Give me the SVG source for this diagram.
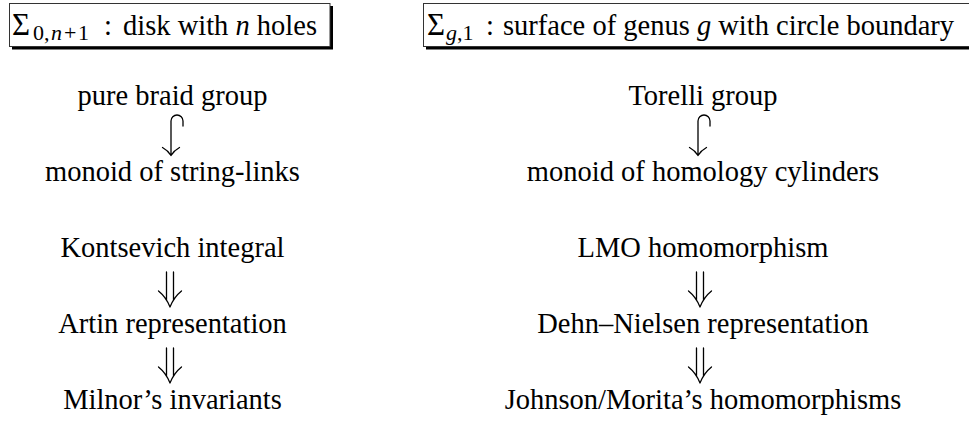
<svg xmlns="http://www.w3.org/2000/svg" width="969" height="421" viewBox="0 0 969 421">
<style>
text { font-family: "Liberation Serif", "Times New Roman", serif; font-size: 28.5px; fill: #000; }
.c { text-anchor: middle; }
.it { font-style: italic; }
.sub { font-size: 22px; }
.frame { fill: #fff; stroke: #333; stroke-width: 1; }
.shadow { fill: #000; }
.arr { fill: none; stroke: #000; stroke-width: 1.3; stroke-linecap: round; stroke-linejoin: round; }
</style>
<rect width="969" height="421" fill="#fff"/>
<g id="box-disk">
  <rect class="shadow" x="12" y="6" width="321" height="43.5"/>
  <rect class="frame" x="9.5" y="3.5" width="320.5" height="43"/>
  <text y="35"><tspan x="12" font-size="31">Σ</tspan><tspan class="sub" x="33" dy="5">0,</tspan><tspan class="sub it" x="51">n</tspan><tspan class="sub" x="64">+</tspan><tspan class="sub" x="78">1</tspan><tspan x="104" dy="-5">:</tspan><tspan x="123">disk with </tspan><tspan class="it">n</tspan><tspan> holes</tspan></text>
</g>
<g id="box-surface">
  <rect class="shadow" x="426" y="6" width="560" height="43.5"/>
  <rect class="frame" x="423.5" y="3.5" width="560" height="43"/>
  <text y="35"><tspan x="427" font-size="31">Σ</tspan><tspan class="sub it" x="446" dy="5">g</tspan><tspan class="sub">,1</tspan><tspan x="486" dy="-5">:</tspan><tspan x="503">surface of genus </tspan><tspan class="it">g</tspan><tspan> with circle boundary</tspan></text>
</g>
<g id="n-pure-braid"><text class="c" x="172.5" y="105">pure braid group</text></g>
<g id="n-string-links"><text class="c" x="172.5" y="181">monoid of string-links</text></g>
<g id="n-kontsevich"><text class="c" x="172.5" y="257">Kontsevich integral</text></g>
<g id="n-artin"><text class="c" x="172.5" y="333">Artin representation</text></g>
<g id="n-milnor"><text class="c" x="172.5" y="409">Milnor’s invariants</text></g>
<g id="n-torelli"><text class="c" x="703" y="105">Torelli group</text></g>
<g id="n-homology-cylinders"><text class="c" x="703" y="181">monoid of homology cylinders</text></g>
<g id="n-lmo"><text class="c" x="703" y="257">LMO homomorphism</text></g>
<g id="n-dehn-nielsen"><text class="c" x="703" y="333">Dehn–Nielsen representation</text></g>
<g id="n-johnson-morita"><text class="c" x="703" y="409">Johnson/Morita’s homomorphisms</text></g>
<g id="connectors">
  <path class="arr" d="M183,126 L183,121 A6,6 0 0 0 171,121 L171,155.5 M162.5,147.5 Q168,150.5 171,155.5 Q174,150.5 179.5,147.5"/>
  <path class="arr" d="M710,126 L710,121 A6,6 0 0 0 698,121 L698,155.5 M689.5,147.5 Q695,150.5 698,155.5 Q701,150.5 706.5,147.5"/>
  <path class="arr" d="M166.5,272 V300 M173.5,272 V300 M158.5,291 Q166,297 170,307 Q174,297 181.5,291"/>
  <path class="arr" d="M166.5,348 V376 M173.5,348 V376 M158.5,367 Q166,373 170,383 Q174,373 181.5,367"/>
  <path class="arr" d="M696.5,272 V300 M703.5,272 V300 M688.5,291 Q696,297 700,307 Q704,297 711.5,291"/>
  <path class="arr" d="M696.5,348 V376 M703.5,348 V376 M688.5,367 Q696,373 700,383 Q704,373 711.5,367"/>
</g>
</svg>
